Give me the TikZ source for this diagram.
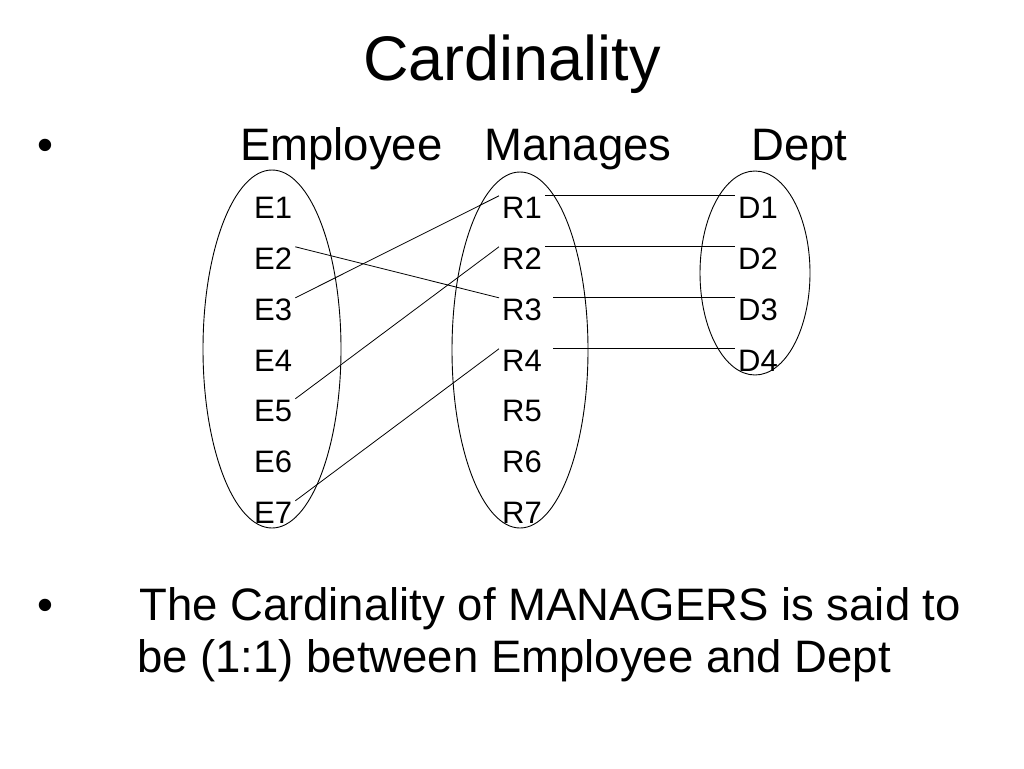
\documentclass[tikz,border=0pt]{standalone}
\usepackage{fontspec}
\setmainfont{Liberation Sans}
\begin{document}
\begin{tikzpicture}[x=1pt,y=-1pt,
  lbl/.style={anchor=base west, inner xsep=3pt, inner ysep=0pt, text height=22pt, text depth=0pt, font=\fontsize{31}{34}\selectfont},
  link/.style={line width=0.8pt},
  setline/.style={line width=0.9pt},
  head/.style={anchor=base west, inner sep=0pt, font=\fontsize{45.5}{52}\selectfont}]
\useasboundingbox[fill=white] (0,0) rectangle (1024,768);

% title
\node[anchor=base, inner sep=0pt, font=\fontsize{63}{70}\selectfont] (title) at (512,80) {Cardinality};

% first bullet and headings
\node[head] (bul1) at (37,160) {•};
\node[head] (hemp) at (240,160) {Employee};
\node[head] (hman) at (484,160) {Manages};
\node[head] (hdep) at (751,160) {Dept};

% sets
\draw[setline] (272,349) ellipse [x radius=69, y radius=179];
\draw[setline] (520,350) ellipse [x radius=68, y radius=178];
\draw[setline] (755,273) ellipse [x radius=55, y radius=102];

% labels
\foreach \i/\y in {1/218,2/269,3/320,4/371,5/421,6/472,7/523}{
  \node[lbl] (e\i) at (251,\y) {E\i};
  \node[lbl] (r\i) at (499,\y) {R\i};
}
\foreach \i/\y in {1/218,2/269,3/320,4/371}{
  \node[lbl] (d\i) at (735,\y) {D\i};
}

% connectors Employee -> Manages
\draw[link] (e3.north east) -- (r1.north west);
\draw[link] (e2.north east) -- (r3.north west);
\draw[link] (e5.north east) -- (r2.north west);
\draw[link] (e7.north east) -- (r4.north west);

% connectors Manages -> Dept
\draw[link] (r1.north east) -- (d1.north west);
\draw[link] (r2.north east) -- (d2.north west);
\draw[link] ([xshift=8pt]r3.north east) -- (d3.north west);
\draw[link] ([xshift=8pt]r4.north east) -- (d4.north west);

% second bullet and text
\node[head] (bul2) at (37,620) {•};
\node[head] (txt1) at (139,620) {The Cardinality of MANAGERS is said to};
\node[head] (txt2) at (137,672) {be (1:1) between Employee and Dept};
\end{tikzpicture}
\end{document}
